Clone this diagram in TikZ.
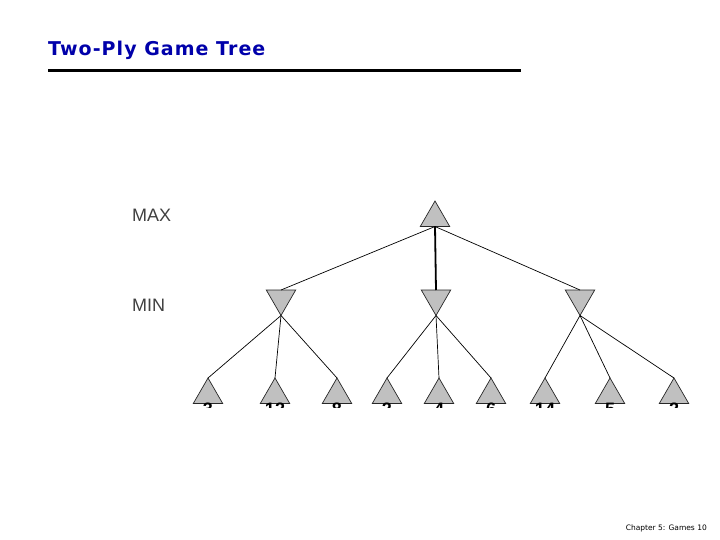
\documentclass[tikz,border=0pt]{standalone}
\usepackage{fontspec}
\usepackage{tikz}
\usetikzlibrary{positioning}
\usetikzlibrary{shapes.geometric}
\newfontfamily\titlefont{DejaVu Sans}
\newfontfamily\widetitlefont[LetterSpace=5.5]{DejaVu Sans}
\newfontfamily\plyfont{Liberation Sans}
\definecolor{titleblue}{RGB}{0,0,170}
\definecolor{plygray}{RGB}{64,64,64}
\definecolor{nodegray}{RGB}{192,192,192}

\begin{document}
\begin{tikzpicture}[
    x=1pt, y=-1pt,
    tri/.style = {
        draw=black!85, fill=nodegray, regular polygon, regular polygon sides=3,
        minimum size=34pt, inner sep=0pt, outer sep=0pt, line width=0.7pt
    },
    maxtri/.style = {tri, anchor=north},
    mintri/.style = {tri, shape border rotate=180, anchor=north},
    edge/.style = {line width=0.7pt},
    val/.style = {font=\plyfont\bfseries\fontsize{18}{18}\selectfont, inner sep=0pt}
]
\useasboundingbox (0,0) rectangle (720,540);

% heading
\node[anchor=base west, inner sep=0pt, text=titleblue,
      font=\widetitlefont\bfseries\fontsize{19}{19}\selectfont] (title) at (48,56) {Two-Ply Game Tree};
\draw[line width=3pt] (48,71) -- (521,71);

% ply labels
\node[anchor=base west, inner sep=0pt, text=plygray,
      font=\plyfont\fontsize{18}{18}\selectfont] (maxlabel) at (132,222) {MAX};
\node[anchor=base west, inner sep=0pt, text=plygray,
      font=\plyfont\fontsize{18}{18}\selectfont] (minlabel) at (132,311) {MIN};

% tree
\node[maxtri] (A) at (435,201) {};
\node[mintri] (B) at (281,290) {};
\node[mintri] (C) at (436,290) {};
\node[mintri] (D) at (580,290) {};
\node[maxtri] (B1) at (208,378) {};
\node[maxtri] (B2) at (275,378) {};
\node[maxtri] (B3) at (337,378) {};
\node[maxtri] (C1) at (387,378) {};
\node[maxtri] (C2) at (439,378) {};
\node[maxtri] (C3) at (491,378) {};
\node[maxtri] (D1) at (545,378) {};
\node[maxtri] (D2) at (610,378) {};
\node[maxtri] (D3) at (674,378) {};

\draw[edge] (A.south) -- (B.north);
\draw[edge, line width=1.8pt] (A.south) -- (C.north);
\draw[edge] (A.south) -- (D.north);
\foreach \p in {B,C,D} {
    \foreach \k in {1,2,3}
        \draw[edge] (\p.south) -- (\p\k.north);
}

% leaf values, cut off at the bottom as in the slide
\begin{scope}
\clip (0,0) rectangle (720,407);
\node[val, below=-1pt of B1] (vB1) {3};
\node[val, below=-1pt of B2] (vB2) {12};
\node[val, below=-1pt of B3] (vB3) {8};
\node[val, below=-1pt of C1] (vC1) {2};
\node[val, below=-1pt of C2] (vC2) {4};
\node[val, below=-1pt of C3] (vC3) {6};
\node[val, below=-1pt of D1] (vD1) {14};
\node[val, below=-1pt of D2] (vD2) {5};
\node[val, below=-1pt of D3] (vD3) {2};
\end{scope}

% footer
\node[anchor=east, inner sep=0pt, font=\titlefont\fontsize{7.5}{8}\selectfont] (footer) at (707,528) {Chapter 5: Games 10};
\end{tikzpicture}
\end{document}
